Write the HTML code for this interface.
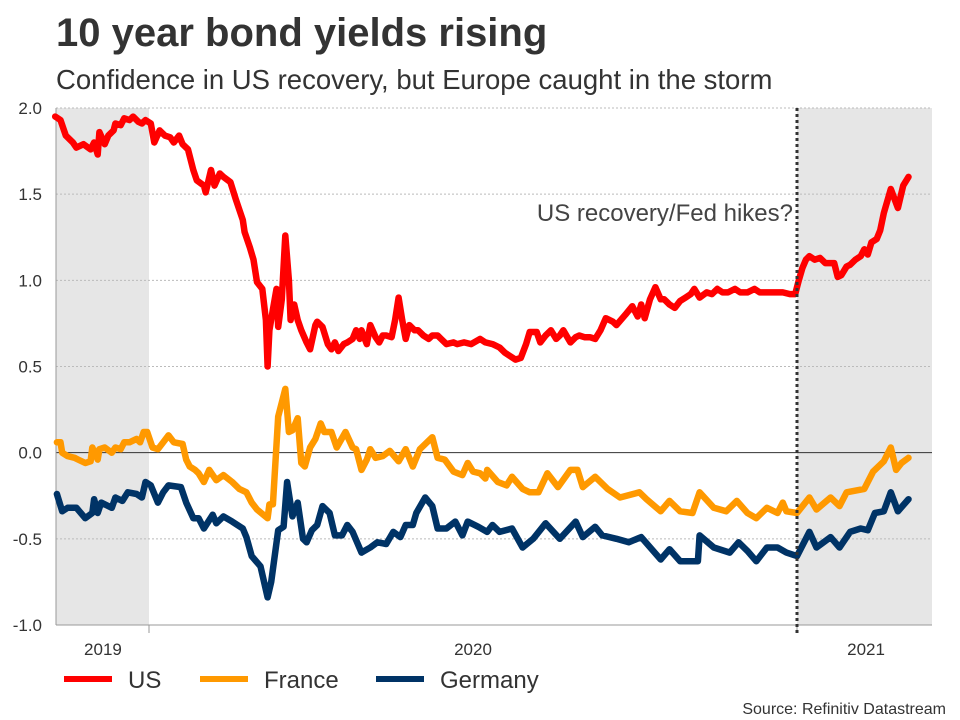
<!DOCTYPE html>
<html><head><meta charset="utf-8"><style>
body{margin:0;background:#fff;font-family:"Liberation Sans",Arial,sans-serif;}
svg{display:block}
</style></head><body>
<svg id="chart" width="960" height="720">
<text x="56" y="46" font-size="40" font-weight="bold" fill="#333">10 year bond yields rising</text>
<text x="56" y="89" font-size="27.5" fill="#333">Confidence in US recovery, but Europe caught in the storm</text>
<text x="946" y="714" font-size="16" fill="#333" text-anchor="end">Source: Refinitiv Datastream</text>
</svg>
<script>
// dates are days relative to 2020-01-01
const yTicks = [2.0, 1.5, 1.0, 0.5, 0.0, -0.5, -1.0];
const yearLabels = ["2019", "2020", "2021"];
const yearLabelDays = [-26, 183, 405];
const yearTickDays = [0, 366];
const markerDay = 366;
const usDays = [-53,-50,-47,-43,-41,-37,-33,-31,-29,-28,-25,-23,-20,-19,-16,-14,-11,-9,-6,-4,-2,1,3,6,9,12,14,17,19,22,25,27,31,32,35,37,40,42,46,49,53,54,57,59,61,64,66,67,68,70,72,73,75,77,79,80,82,84,86,89,91,94,95,98,101,103,105,107,110,112,115,117,119,120,123,125,128,130,132,134,137,139,141,143,145,147,150,152,155,158,160,163,165,168,172,174,178,182,187,190,194,198,201,204,207,210,213,215,219,221,224,227,230,232,234,238,241,243,246,249,252,255,258,262,264,269,273,276,278,280,283,286,289,291,294,297,300,303,306,308,311,315,318,321,324,327,331,334,338,342,345,348,351,355,358,362,365,367,369,371,373,376,379,382,385,387,389,391,394,396,399,402,404,406,408,411,413,415,419,423,426,429];
const usValues = [1.95,1.93,1.84,1.80,1.77,1.79,1.76,1.80,1.73,1.86,1.79,1.84,1.87,1.91,1.90,1.94,1.93,1.95,1.92,1.91,1.93,1.91,1.80,1.87,1.84,1.83,1.80,1.84,1.79,1.76,1.64,1.58,1.55,1.51,1.64,1.55,1.62,1.60,1.57,1.47,1.35,1.28,1.19,1.12,0.99,0.95,0.77,0.50,0.71,0.83,0.95,0.73,0.89,1.26,1.00,0.77,0.86,0.77,0.71,0.64,0.60,0.74,0.76,0.73,0.63,0.60,0.64,0.59,0.63,0.64,0.66,0.71,0.66,0.71,0.63,0.74,0.67,0.64,0.68,0.68,0.67,0.77,0.90,0.77,0.66,0.74,0.71,0.71,0.68,0.66,0.68,0.68,0.66,0.63,0.64,0.63,0.64,0.63,0.66,0.64,0.63,0.61,0.58,0.56,0.54,0.55,0.63,0.70,0.70,0.64,0.68,0.71,0.66,0.68,0.71,0.64,0.67,0.68,0.67,0.67,0.66,0.71,0.78,0.76,0.74,0.80,0.85,0.79,0.86,0.78,0.89,0.96,0.89,0.89,0.86,0.84,0.88,0.90,0.92,0.95,0.90,0.93,0.92,0.95,0.93,0.93,0.95,0.93,0.93,0.95,0.93,0.93,0.93,0.93,0.93,0.92,0.92,1.00,1.07,1.12,1.14,1.12,1.13,1.10,1.10,1.10,1.02,1.03,1.08,1.09,1.12,1.14,1.18,1.15,1.22,1.24,1.29,1.39,1.53,1.42,1.55,1.60];
const frDays = [-52,-50,-49,-46,-42,-40,-36,-33,-32,-29,-28,-25,-21,-19,-16,-14,-11,-7,-5,-3,-1,2,5,8,11,14,19,21,23,26,28,31,34,38,42,47,51,55,58,61,67,68,70,73,77,79,81,84,86,88,91,94,97,99,103,106,111,115,117,120,123,125,128,132,136,141,145,149,153,160,163,167,172,177,180,183,187,190,191,197,202,205,211,215,220,225,231,238,242,245,252,259,266,277,281,289,294,300,307,311,319,326,332,338,343,349,355,358,360,366,373,377,385,390,394,404,409,415,419,422,425,429];
const frValues = [0.06,0.06,0.00,-0.02,-0.03,-0.04,-0.06,-0.05,0.03,-0.04,0.02,0.03,0.00,0.03,0.02,0.06,0.06,0.08,0.06,0.12,0.12,0.03,0.02,0.06,0.10,0.06,0.05,-0.04,-0.08,-0.10,-0.12,-0.17,-0.10,-0.16,-0.13,-0.17,-0.21,-0.23,-0.29,-0.33,-0.38,-0.30,-0.30,0.21,0.37,0.12,0.13,0.20,-0.06,-0.08,0.03,0.08,0.17,0.12,0.12,0.03,0.12,0.03,0.02,-0.10,-0.04,0.02,-0.03,-0.02,0.01,-0.05,0.02,-0.08,0.02,0.09,-0.03,-0.04,-0.11,-0.13,-0.06,-0.11,-0.12,-0.15,-0.10,-0.17,-0.19,-0.14,-0.21,-0.23,-0.23,-0.12,-0.20,-0.10,-0.10,-0.20,-0.14,-0.21,-0.26,-0.23,-0.27,-0.34,-0.28,-0.34,-0.35,-0.23,-0.32,-0.34,-0.28,-0.35,-0.38,-0.32,-0.35,-0.29,-0.34,-0.35,-0.26,-0.33,-0.26,-0.31,-0.23,-0.21,-0.11,-0.05,0.03,-0.10,-0.06,-0.03];
const deDays = [-52,-49,-46,-41,-36,-32,-31,-29,-27,-21,-19,-15,-12,-7,-4,-2,1,5,8,11,18,21,25,28,31,36,38,42,47,53,55,58,63,67,69,73,76,78,81,84,87,89,92,95,98,102,105,109,112,115,120,125,129,134,138,142,145,149,151,156,160,163,168,173,177,180,186,191,194,198,205,211,217,224,232,241,245,252,256,264,271,278,289,294,300,310,311,319,328,333,338,343,349,355,360,366,373,377,385,390,396,402,406,410,415,419,423,429];
const deValues = [-0.24,-0.34,-0.32,-0.32,-0.38,-0.35,-0.27,-0.35,-0.29,-0.32,-0.26,-0.28,-0.23,-0.24,-0.26,-0.17,-0.19,-0.29,-0.23,-0.19,-0.20,-0.29,-0.38,-0.38,-0.44,-0.36,-0.41,-0.37,-0.40,-0.44,-0.49,-0.60,-0.66,-0.84,-0.75,-0.45,-0.43,-0.17,-0.37,-0.29,-0.50,-0.52,-0.45,-0.42,-0.31,-0.35,-0.48,-0.48,-0.42,-0.46,-0.58,-0.55,-0.52,-0.53,-0.46,-0.49,-0.42,-0.42,-0.35,-0.26,-0.31,-0.44,-0.44,-0.40,-0.48,-0.40,-0.43,-0.46,-0.42,-0.46,-0.44,-0.55,-0.50,-0.41,-0.50,-0.40,-0.49,-0.43,-0.48,-0.50,-0.52,-0.49,-0.62,-0.56,-0.63,-0.63,-0.48,-0.55,-0.58,-0.52,-0.57,-0.63,-0.55,-0.55,-0.58,-0.60,-0.46,-0.55,-0.49,-0.55,-0.46,-0.44,-0.45,-0.35,-0.34,-0.23,-0.34,-0.27];

const NS = "http://www.w3.org/2000/svg";
const svg = document.getElementById("chart");
const L = 56, R = 932, T = 108, B = 625;
const yMin = -1, yMax = 2;
const yS = v => B - (v - yMin) / (yMax - yMin) * (B - T);
const xS = d => 149 + d * (648 / 366);
function mk(tag, attrs, parent) {
  const e = document.createElementNS(NS, tag);
  for (const k in attrs) e.setAttribute(k, attrs[k]);
  (parent || svg).appendChild(e);
  return e;
}
let r1 = mk("rect", {x: L, y: T, width: xS(0) - L, height: B - T, fill: "#e6e6e6"});


let r2 = mk("rect", {x: xS(markerDay), y: T, width: R - xS(markerDay), height: B - T, fill: "#e6e6e6"});


yTicks.forEach(v => {
  const y = yS(v);
  let g;
  if (v === 0) {
    g = mk("line", {x1: L, x2: R, y1: y, y2: y, stroke: "#333", "stroke-width": 1});
  } else if (v === yMin) {
    g = mk("line", {x1: L, x2: R, y1: y, y2: y, stroke: "#999", "stroke-width": 1});
  } else {
    g = mk("line", {x1: L, x2: R, y1: y, y2: y, stroke: "#bbb", "stroke-width": 1, "stroke-dasharray": "2,2"});
  }
  
  
  const t = mk("text", {x: 42, y: y + 6, "font-size": 17, fill: "#333", "text-anchor": "end"});
  t.textContent = v.toFixed(1);
  
  
});
let ax = mk("line", {x1: L, x2: L, y1: T, y2: B, stroke: "#999", "stroke-width": 1});


yearTickDays.forEach(d => {
  const tk = mk("line", {x1: xS(d), x2: xS(d), y1: B, y2: B + 8, stroke: "#999", "stroke-width": 1});
  
  
});
yearLabels.forEach((lab, i) => {
  const t = mk("text", {x: xS(yearLabelDays[i]), y: 655, "font-size": 17, fill: "#333", "text-anchor": "middle"});
  t.textContent = lab;
  
  
});
function line(days, vals, color, name) {
  const d = days.map((dd, i) => (i ? "L" : "M") + xS(dd).toFixed(1) + "," + yS(vals[i]).toFixed(1)).join("");
  const p = mk("path", {d: d, fill: "none", stroke: color, "stroke-width": 6.5, "stroke-linejoin": "round", "stroke-linecap": "round"});
  
  
}
line(deDays, deValues, "#003366", "germany-line");
line(frDays, frValues, "#ff9900", "france-line");
line(usDays, usValues, "#ff0000", "us-line");
let mkLine = mk("line", {x1: xS(markerDay), x2: xS(markerDay), y1: T, y2: B + 8, stroke: "#333", "stroke-width": 3, "stroke-dasharray": "3,3"});


let ann = mk("text", {x: xS(markerDay) - 4, y: 221, "font-size": 24, fill: "#444", "text-anchor": "end"});
ann.textContent = "US recovery/Fed hikes?";


const legNames = ["US", "France", "Germany"];
const legColors = ["#ff0000", "#ff9900", "#003366"];
const legX = [64, 200, 376];
legNames.forEach((n, i) => {
  const s = mk("line", {x1: legX[i], x2: legX[i] + 48, y1: 679, y2: 679, stroke: legColors[i], "stroke-width": 6});
  
  
  const t = mk("text", {x: legX[i] + 64, y: 688, "font-size": 24, fill: "#333"});
  t.textContent = n;
  
  
});
</script>
</body></html>
